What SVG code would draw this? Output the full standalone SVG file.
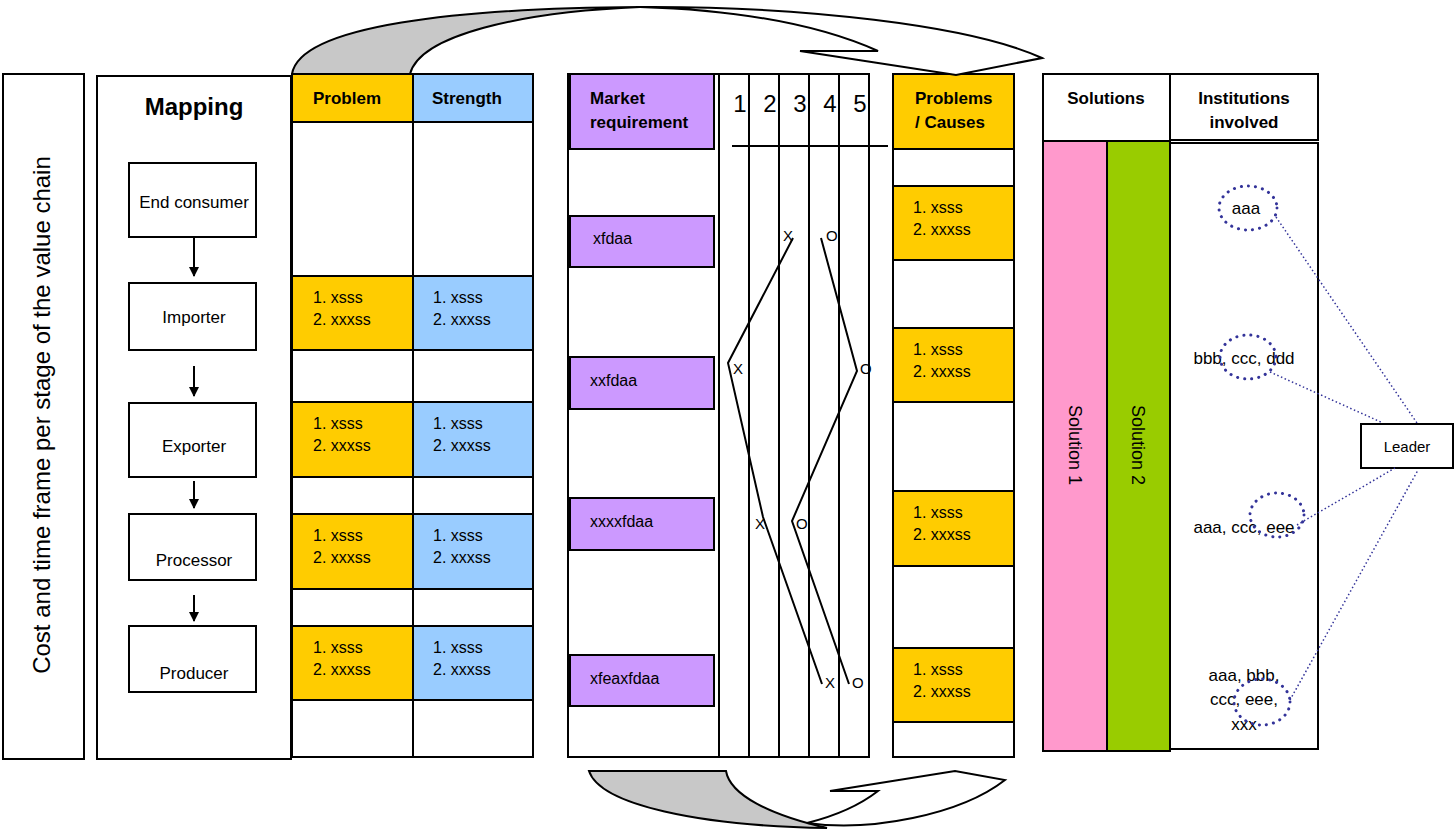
<svg xmlns="http://www.w3.org/2000/svg" width="1454" height="831" viewBox="0 0 1454 831">
<defs>
<style>
text{font-family:"Liberation Sans",Arial,sans-serif;fill:#000}
.b{stroke:#000;stroke-width:2;fill:#fff}
.y{fill:#FFCC00;stroke:#000;stroke-width:2}
.bl{fill:#99CCFF;stroke:#000;stroke-width:2}
.p{fill:#CC99FF;stroke:#000;stroke-width:2}
.ln{stroke:#000;stroke-width:2;fill:none}
.h{font-size:17px;font-weight:bold}
.t{font-size:16px}
.n{font-size:17px;text-anchor:middle}
.m{font-size:15px}
.dot{fill:none;stroke:#333399;stroke-width:3;stroke-dasharray:0.1 7;stroke-linecap:round}
.dl{stroke:#333399;stroke-width:1.5;stroke-dasharray:1.5 2.5;fill:none}
</style>
<marker id="ah" viewBox="0 0 10 10" refX="9" refY="5" markerWidth="11" markerHeight="10" orient="auto" markerUnits="userSpaceOnUse">
<path d="M0,0 L10,5 L0,10 z" fill="#000"/>
</marker>
</defs>
<rect width="1454" height="831" fill="#fff"/>

<g id="cost">
<rect class="b" x="3" y="74" width="81" height="685"/>
<text transform="translate(50,415) rotate(-90)" text-anchor="middle" font-size="24">Cost and time frame per stage of the value chain</text>
</g>

<g id="mapping">
<rect class="b" x="97" y="76" width="194" height="683"/>
<text x="194" y="115" text-anchor="middle" font-size="24" font-weight="bold">Mapping</text>
</g>
<g id="end-consumer"><rect class="b" x="129" y="163" width="127" height="74"/><text class="n" x="194" y="208">End consumer</text></g>
<g id="importer"><rect class="b" x="129" y="283" width="127" height="67"/><text class="n" x="194" y="323">Importer</text></g>
<g id="exporter"><rect class="b" x="129" y="403" width="127" height="74"/><text class="n" x="194" y="452">Exporter</text></g>
<g id="processor"><rect class="b" x="129" y="514" width="127" height="66"/><text class="n" x="194" y="566">Processor</text></g>
<g id="producer"><rect class="b" x="129" y="626" width="127" height="66"/><text class="n" x="194" y="679">Producer</text></g>

<g id="problem-strength">
<rect class="b" x="292" y="74" width="241" height="683"/>
<rect class="y" x="292" y="74" width="121" height="48"/>
<rect class="bl" x="413" y="74" width="120" height="48"/>
<text class="h" x="313" y="104">Problem</text>
<text class="h" x="432" y="104">Strength</text>
<rect class="y" x="292" y="276" width="121" height="74"/><rect class="bl" x="413" y="276" width="120" height="74"/>
<rect class="y" x="292" y="402" width="121" height="75"/><rect class="bl" x="413" y="402" width="120" height="75"/>
<rect class="y" x="292" y="514" width="121" height="75"/><rect class="bl" x="413" y="514" width="120" height="75"/>
<rect class="y" x="292" y="626" width="121" height="74"/><rect class="bl" x="413" y="626" width="120" height="74"/>
<line class="ln" x1="413" y1="74" x2="413" y2="757"/>
<g class="t">
<text x="313" y="303">1. xsss</text><text x="313" y="325">2. xxxss</text>
<text x="433" y="303">1. xsss</text><text x="433" y="325">2. xxxss</text>
<text x="313" y="429">1. xsss</text><text x="313" y="451">2. xxxss</text>
<text x="433" y="429">1. xsss</text><text x="433" y="451">2. xxxss</text>
<text x="313" y="541">1. xsss</text><text x="313" y="563">2. xxxss</text>
<text x="433" y="541">1. xsss</text><text x="433" y="563">2. xxxss</text>
<text x="313" y="653">1. xsss</text><text x="313" y="675">2. xxxss</text>
<text x="433" y="653">1. xsss</text><text x="433" y="675">2. xxxss</text>
</g>
</g>

<g id="market">
<rect class="b" x="568" y="74" width="151" height="683"/>
<rect class="p" x="570" y="74" width="144" height="75"/>
<text class="h" x="590" y="104">Market</text>
<text class="h" x="590" y="128">requirement</text>
<rect class="p" x="570" y="216" width="144" height="51"/><text class="t" x="593" y="244">xfdaa</text>
<rect class="p" x="570" y="357" width="144" height="52"/><text class="t" x="590" y="386">xxfdaa</text>
<rect class="p" x="570" y="498" width="144" height="52"/><text class="t" x="590" y="527">xxxxfdaa</text>
<rect class="p" x="570" y="655" width="144" height="51"/><text class="t" x="590" y="684">xfeaxfdaa</text>
</g>

<g id="ratings">
<rect class="b" x="719" y="74" width="150" height="683"/>
<line class="ln" x1="749" y1="74" x2="749" y2="757"/>
<line class="ln" x1="779" y1="74" x2="779" y2="757"/>
<line class="ln" x1="809" y1="74" x2="809" y2="757"/>
<line class="ln" x1="839" y1="74" x2="839" y2="757"/>
<line class="ln" x1="732" y1="146" x2="888" y2="146"/>
<g font-size="24" text-anchor="middle">
<text x="740" y="112">1</text><text x="770" y="112">2</text><text x="800" y="112">3</text><text x="830" y="112">4</text><text x="860" y="112">5</text>
</g>
<polyline class="ln" points="793,238 728,363 763,517 822,684"/>
<polyline class="ln" points="821,238 857,371 792,521 849,684"/>
<g class="m">
<text x="783" y="241">X</text><text x="826" y="241">O</text>
<text x="733" y="374">X</text><text x="860" y="374">O</text>
<text x="755" y="529">X</text><text x="796" y="529">O</text>
<text x="825" y="688">X</text><text x="852" y="688">O</text>
</g>
</g>

<g id="problems-causes">
<rect class="b" x="893" y="74" width="121" height="683"/>
<rect class="y" x="893" y="74" width="121" height="75"/>
<text class="h" x="915" y="104">Problems</text>
<text class="h" x="915" y="128">/  Causes</text>
<rect class="y" x="893" y="186" width="121" height="74"/>
<rect class="y" x="893" y="328" width="121" height="74"/>
<rect class="y" x="893" y="491" width="121" height="75"/>
<rect class="y" x="893" y="648" width="121" height="74"/>
<g class="t">
<text x="913" y="213">1. xsss</text><text x="913" y="235">2. xxxss</text>
<text x="913" y="355">1. xsss</text><text x="913" y="377">2. xxxss</text>
<text x="913" y="518">1. xsss</text><text x="913" y="540">2. xxxss</text>
<text x="913" y="675">1. xsss</text><text x="913" y="697">2. xxxss</text>
</g>
</g>

<g id="solutions">
<rect class="b" x="1043" y="74" width="127" height="67"/>
<text class="h" x="1106" y="104" text-anchor="middle">Solutions</text>
<rect x="1043" y="141" width="64" height="610" fill="#FF99CC" stroke="#000" stroke-width="2"/>
<rect x="1107" y="141" width="63" height="610" fill="#99CC00" stroke="#000" stroke-width="2"/>
<text transform="translate(1069,445) rotate(90)" text-anchor="middle" font-size="18">Solution 1</text>
<text transform="translate(1132,445) rotate(90)" text-anchor="middle" font-size="18">Solution 2</text>
</g>

<g id="institutions">
<rect class="b" x="1170" y="74" width="148" height="66"/>
<rect class="b" x="1170" y="143" width="148" height="606"/>
<text class="h" x="1244" y="104" text-anchor="middle">Institutions</text>
<text class="h" x="1244" y="128" text-anchor="middle">involved</text>
<g class="n">
<text x="1246" y="214">aaa</text>
<text x="1244" y="364">bbb, ccc, ddd</text>
<text x="1244" y="533">aaa, ccc, eee</text>
<text x="1244" y="681">aaa, bbb,</text>
<text x="1244" y="705">ccc, eee,</text>
<text x="1244" y="730">xxx</text>
</g>
<ellipse class="dot" cx="1248" cy="208" rx="29" ry="22"/>
<ellipse class="dot" cx="1248" cy="357" rx="28" ry="22"/>
<ellipse class="dot" cx="1277" cy="515" rx="27" ry="22"/>
<ellipse class="dot" cx="1262" cy="702" rx="28" ry="23"/>
</g>

<g id="leader">
<rect class="b" x="1361" y="424" width="92" height="44"/>
<text x="1407" y="452" text-anchor="middle" font-size="15">Leader</text>
</g>

<g id="connectors">
<line class="ln" x1="194" y1="237" x2="194" y2="276" marker-end="url(#ah)"/>
<line class="ln" x1="194" y1="366" x2="194" y2="396" marker-end="url(#ah)"/>
<line class="ln" x1="194" y1="481" x2="194" y2="508" marker-end="url(#ah)"/>
<line class="ln" x1="194" y1="595" x2="194" y2="621" marker-end="url(#ah)"/>
<line class="dl" x1="1276" y1="217" x2="1417" y2="423"/>
<line class="dl" x1="1270" y1="372" x2="1383" y2="423"/>
<line class="dl" x1="1297" y1="525" x2="1395" y2="468"/>
<line class="dl" x1="1290" y1="700" x2="1418" y2="470"/>
<path d="M292,74 C300,25 460,8 640,7 C520,12 420,35 410,74 Z" fill="#C8C8C8" stroke="#000" stroke-width="2" stroke-linejoin="round"/>
<path d="M640,7 C800,6 970,25 1042,58 L956,75 L800,51 L878,51 C820,25 740,10 640,7 Z" fill="#fff" stroke="#000" stroke-width="2" stroke-linejoin="miter"/>
<path d="M589,771 L726,771 C730,795 770,815 827,828 C700,826 600,805 589,771 Z" fill="#C8C8C8" stroke="#000" stroke-width="2"/>
<path d="M807,823 C870,832 960,815 1005,780 L955,771 L830,791 L878,791 C860,805 835,816 807,823 Z" fill="#fff" stroke="#000" stroke-width="2"/>
</g>
</svg>
